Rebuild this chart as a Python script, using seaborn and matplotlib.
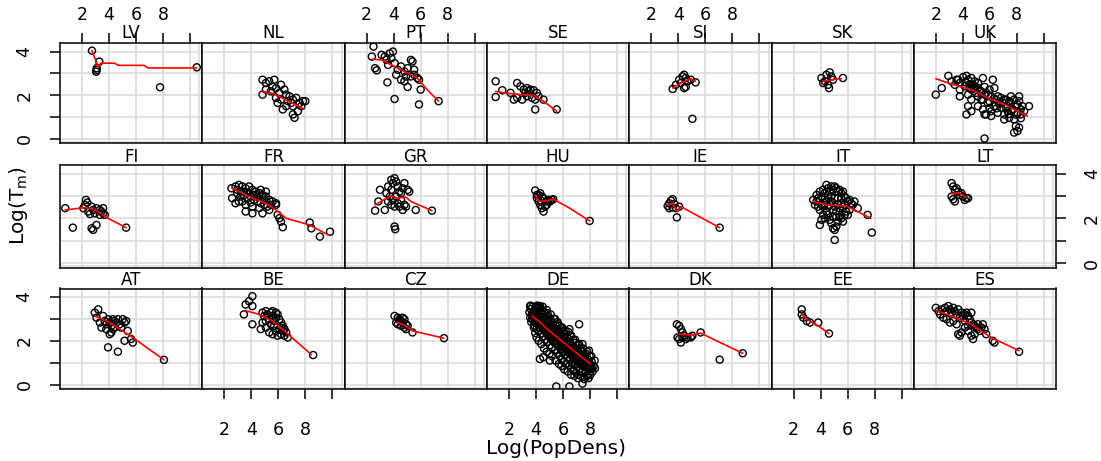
import matplotlib
matplotlib.use("Agg")
import matplotlib.pyplot as plt
import pandas as pd
import seaborn as sns

# panel layout, lattice style (filled bottom-up, alphabetical)
row_top = ["LV", "NL", "PT", "SE", "SI", "SK", "UK"]
row_mid = ["FI", "FR", "GR", "HU", "IE", "IT", "LT"]
row_bot = ["AT", "BE", "CZ", "DE", "DK", "EE", "ES"]

x_ticks = [2, 4, 6, 8, 10]
x_tick_labels = ["2", "4", "6", "8", ""]
y_ticks = [0, 1, 2, 3, 4]
y_tick_labels = ["0", "", "2", "", "4"]

# (log popdens, log T_m)
lv_pts = [(2.74, 4.04), (3.28, 3.54), (3.09, 3.24), (3.09, 3.16), (3.05, 3.08), (7.78, 2.37), (10.5, 3.28)]
lv_fit = [(2.74, 4.04), (3.2, 3.3), (3.4, 3.47), (4.4, 3.47), (4.7, 3.37), (6.6, 3.37), (6.9, 3.25), (10.5, 3.25)]

nl_pts = [(4.83, 2.71), (5.08, 2.56), (5.33, 2.64), (5.7, 2.71), (5.08, 2.26), (4.83, 2.03), (5.45, 2.18),
          (5.83, 2.33), (6.2, 2.48), (6.08, 2.11), (6.45, 2.26), (6.58, 2.03), (5.83, 1.88), (6.2, 1.8),
          (6.83, 1.95), (7.08, 1.8), (7.33, 1.88), (7.58, 1.65), (7.83, 1.73), (7.08, 1.5), (6.58, 1.5),
          (6.33, 1.35), (7.08, 1.12), (7.2, 0.97), (7.45, 1.27), (6.95, 1.65), (5.58, 2.41), (5.95, 1.65),
          (6.7, 1.73), (7.7, 1.5), (8.0, 1.73)]
nl_fit = [(4.8, 2.17), (5.5, 2.1), (6.2, 1.9), (7.0, 1.65), (7.9, 1.37)]

pt_pts = [(2.51, 4.23), (2.39, 3.77), (2.63, 3.24), (2.75, 3.14), (3.11, 3.85), (3.35, 3.77), (3.47, 3.62),
          (3.71, 3.92), (3.83, 3.7), (3.95, 4.0), (3.59, 3.39), (4.07, 3.47), (4.31, 3.17), (4.55, 3.32),
          (4.8, 3.09), (5.04, 3.24), (5.28, 3.62), (5.4, 3.55), (5.52, 3.17), (5.76, 2.79), (5.88, 2.71),
          (4.8, 2.64), (5.04, 2.38), (4.55, 2.71), (4.19, 2.94), (5.52, 2.94), (6.0, 2.26), (3.54, 2.59),
          (4.07, 1.83), (5.88, 1.58), (7.33, 1.73), (5.28, 2.86), (4.92, 2.86)]
pt_fit = [(2.39, 3.65), (3.11, 3.62), (3.83, 3.39), (4.8, 3.09), (5.76, 2.79), (6.48, 2.26), (7.33, 1.73)]

se_pts = [(1.02, 2.64), (1.02, 1.92), (1.51, 2.23), (2.61, 2.56), (2.85, 2.41), (3.1, 2.26), (3.34, 2.33),
          (3.59, 2.26), (3.83, 2.23), (4.07, 2.11), (2.61, 1.88), (2.37, 1.8), (2.98, 1.8), (3.34, 1.95),
          (3.71, 1.88), (3.95, 1.8), (4.56, 1.8), (3.95, 1.35), (5.54, 1.35), (2.12, 2.11), (3.22, 2.11),
          (3.46, 2.18), (4.2, 1.95)]
se_fit = [(1.02, 2.18), (1.63, 2.11), (2.85, 2.03), (3.83, 2.0), (4.56, 1.73), (5.54, 1.27)]

si_pts = [(3.59, 2.29), (3.83, 2.48), (4.07, 2.71), (4.32, 2.86), (4.44, 2.94), (4.56, 2.79), (4.68, 2.64),
          (4.56, 2.38), (4.2, 2.56), (4.93, 2.71), (5.29, 2.59), (4.44, 2.33), (5.05, 0.92)]
si_fit = [(3.59, 2.33), (4.2, 2.56), (4.93, 2.76), (5.29, 2.64)]

sk_pts = [(4.07, 2.79), (4.32, 2.64), (4.44, 2.94), (4.56, 2.48), (4.68, 3.05), (4.8, 2.86), (4.63, 2.33),
          (4.2, 2.56), (5.66, 2.79), (4.93, 2.71)]
sk_fit = [(4.2, 2.64), (4.93, 2.71), (5.54, 2.76)]

uk_pts = [(2.0, 2.03), (2.44, 2.33), (2.93, 2.89), (3.17, 2.64), (3.54, 2.71), (3.78, 2.56), (4.02, 2.83),
          (4.27, 2.89), (4.39, 2.71), (4.63, 2.79), (4.88, 2.64), (5.12, 2.56), (5.49, 2.79), (3.78, 2.26),
          (4.15, 2.41), (4.51, 2.33), (4.76, 2.48), (5.12, 2.33), (5.61, 2.38), (5.98, 2.26), (6.34, 2.33),
          (3.78, 1.95), (4.39, 2.03), (4.63, 1.8), (5.12, 1.95), (5.61, 2.03), (6.1, 1.95), (6.46, 1.8),
          (6.83, 1.88), (7.2, 1.8), (7.56, 1.65), (7.8, 1.8), (8.17, 1.95), (8.05, 1.58), (7.68, 1.35),
          (7.32, 1.5), (6.83, 1.42), (6.34, 1.5), (5.85, 1.65), (5.49, 1.35), (5.73, 1.12), (6.1, 1.05),
          (6.59, 1.2), (7.07, 1.12), (7.44, 0.97), (7.8, 0.89), (8.05, 1.2), (8.29, 1.35), (8.9, 1.5),
          (7.93, 0.59), (8.05, 0.36), (7.8, 0.29), (8.17, 0.52), (4.39, 1.5), (4.27, 1.12), (4.63, 1.27),
          (5.12, 1.5), (5.37, 1.8), (6.22, 2.71), (5.0, 2.11), (5.49, 1.8), (5.98, 1.42), (6.95, 1.65),
          (7.32, 1.27), (7.56, 1.95), (8.54, 1.27), (8.41, 1.5), (7.07, 0.89), (5.61, 0.02), (5.61, 1.12),
          (6.1, 1.27), (3.41, 2.48), (3.66, 2.71), (4.63, 2.26), (4.88, 2.41), (5.37, 2.18), (5.73, 2.11),
          (6.59, 1.95), (7.07, 1.8), (7.44, 1.73), (7.93, 1.5), (8.17, 1.73), (8.29, 1.12),
          (4.2, 2.6), (4.5, 2.5), (4.8, 2.3), (5.25, 2.2), (5.9, 2.0), (6.3, 1.85), (6.7, 1.6),
          (7.2, 1.45), (7.6, 1.3), (8.0, 1.1), (8.3, 0.95), (6.0, 1.7), (6.5, 1.4), (7.4, 1.15)]
uk_fit = [(2.0, 2.76), (2.93, 2.56), (4.63, 2.26), (5.85, 1.88), (7.07, 1.58), (8.78, 1.05)]

fi_pts = [(0.76, 2.45), (1.32, 1.58), (2.29, 2.82), (2.22, 2.6), (2.46, 2.3), (2.39, 2.7), (2.71, 2.52),
          (2.83, 2.37), (3.07, 2.45), (3.32, 2.37), (3.44, 2.3), (3.56, 2.22), (3.68, 2.15), (3.32, 2.15),
          (3.56, 2.45), (2.95, 2.22), (3.07, 1.7), (2.83, 1.48), (2.71, 1.55), (5.27, 1.58), (2.1, 2.45),
          (2.59, 2.19)]
fi_fit = [(0.76, 2.37), (1.85, 2.45), (2.34, 2.48), (3.07, 2.34), (3.8, 2.04), (5.27, 1.58)]

fr_pts = [(2.53, 3.34), (2.83, 3.42), (3.08, 3.49), (3.33, 3.42), (3.58, 3.34), (3.83, 3.42), (4.08, 3.27),
          (4.33, 3.19), (4.58, 3.12), (4.83, 3.04), (5.08, 2.97), (5.33, 2.82), (5.58, 2.75), (5.83, 2.67),
          (2.95, 3.12), (3.2, 2.97), (3.45, 3.04), (3.7, 2.9), (3.95, 2.97), (4.2, 2.82), (4.45, 2.75),
          (4.7, 2.67), (4.95, 2.6), (5.2, 2.52), (3.08, 2.75), (3.58, 2.6), (4.08, 2.52), (4.58, 2.45),
          (3.58, 2.3), (4.08, 2.22), (4.83, 2.22), (5.33, 2.37), (5.83, 2.6), (2.95, 3.27), (3.45, 3.19),
          (3.83, 3.12), (4.2, 3.04), (2.58, 2.9), (2.83, 2.67), (3.33, 2.75), (6.08, 2.0), (6.2, 1.85),
          (6.33, 1.6), (5.95, 2.15), (8.33, 1.81), (8.45, 1.55), (9.08, 1.18), (9.83, 1.4), (5.08, 3.19),
          (4.7, 3.27), (3.2, 3.2), (3.7, 3.15), (4.45, 2.95), (4.95, 2.8), (5.45, 2.6), (3.95, 2.7)]
fr_fit = [(2.58, 3.34), (3.83, 2.97), (5.08, 2.67), (5.83, 2.37), (6.58, 2.0), (8.33, 1.7), (9.7, 1.25)]

gr_pts = [(2.63, 2.34), (2.99, 3.27), (3.35, 2.37), (3.47, 3.12), (3.71, 2.97), (3.83, 3.27), (3.95, 3.57),
          (4.07, 3.79), (4.19, 3.64), (4.31, 3.42), (4.43, 3.19), (4.55, 3.12), (4.67, 3.34), (4.8, 3.57),
          (5.04, 3.27), (5.16, 3.19), (3.59, 2.75), (3.83, 2.6), (4.07, 2.52), (4.31, 2.67), (4.55, 2.82),
          (4.8, 2.6), (4.92, 2.52), (4.07, 1.63), (4.12, 1.51), (5.64, 2.37), (6.84, 2.34), (2.87, 2.75),
          (3.59, 3.42), (3.95, 2.82), (4.19, 2.97), (4.43, 2.52), (4.67, 2.37), (3.83, 3.72)]
gr_fit = [(2.63, 2.6), (3.35, 2.85), (3.83, 3.0), (4.19, 2.9), (4.92, 2.94), (5.28, 2.75), (6.84, 2.34)]

hu_pts = [(3.95, 3.24), (4.2, 3.04), (4.32, 3.12), (4.44, 2.97), (4.56, 2.9), (4.07, 2.9), (4.2, 2.75),
          (4.32, 2.6), (4.44, 2.45), (4.56, 2.3), (4.68, 2.52), (4.8, 2.75), (4.93, 2.82), (5.05, 2.75),
          (4.8, 2.6), (5.17, 2.82), (5.29, 2.85), (7.98, 1.88), (4.07, 3.04), (4.37, 2.79)]
hu_fit = [(3.95, 3.04), (4.2, 2.75), (4.8, 2.78), (5.29, 2.85), (6.51, 2.45), (7.98, 1.88)]

ie_pts = [(3.22, 2.55), (3.34, 2.67), (3.46, 2.79), (3.59, 2.85), (3.71, 2.64), (3.59, 2.48), (3.34, 2.45),
          (3.83, 2.45), (3.9, 2.04), (7.07, 1.58), (4.07, 2.52)]
ie_fit = [(3.22, 2.6), (3.59, 2.67), (3.95, 2.3), (4.2, 2.52), (7.07, 1.58)]

it_pts = [(3.46, 2.82), (3.59, 2.6), (3.71, 3.04), (3.83, 2.9), (3.95, 3.19), (4.07, 2.97), (4.2, 3.27),
          (4.32, 3.12), (4.44, 3.49), (4.56, 3.34), (4.68, 3.19), (4.8, 3.42), (4.93, 3.27), (5.05, 3.42),
          (5.17, 3.34), (5.29, 3.19), (5.41, 3.27), (5.54, 3.12), (5.66, 3.19), (5.78, 2.97), (5.9, 2.9),
          (6.02, 2.75), (6.15, 2.82), (6.27, 2.67), (6.39, 2.6), (6.51, 2.75), (6.76, 2.45), (7.49, 2.15),
          (7.8, 1.36), (5.05, 1.03), (3.95, 1.7), (4.07, 1.93), (4.2, 2.15), (4.32, 2.0), (4.44, 2.3),
          (4.56, 2.15), (4.68, 1.93), (4.8, 1.78), (4.93, 1.55), (5.05, 1.48), (5.17, 1.63), (5.29, 1.85),
          (5.41, 2.07), (5.54, 2.0), (5.66, 1.85), (5.78, 2.15), (5.9, 2.3), (6.02, 2.15), (6.15, 2.37),
          (3.95, 2.37), (4.07, 2.6), (4.2, 2.52), (4.32, 2.67), (4.44, 2.75), (4.56, 2.52), (4.68, 2.6),
          (4.8, 2.75), (4.93, 2.37), (5.05, 2.52), (5.17, 2.3), (5.29, 2.6), (5.41, 2.45), (5.54, 2.67),
          (5.66, 2.52), (5.78, 2.6), (4.32, 2.9), (4.56, 3.04), (5.05, 2.9), (5.29, 2.9), (5.54, 2.9),
          (4.8, 2.97), (3.83, 2.52), (3.71, 2.75), (5.17, 2.07), (4.93, 2.07)]
it_fit = [(3.46, 2.75), (4.44, 2.6), (5.9, 2.55), (6.51, 2.37), (7.73, 2.0)]

lt_pts = [(3.17, 3.57), (3.29, 3.42), (3.41, 3.27), (3.54, 3.34), (3.66, 3.19), (3.78, 3.04), (3.17, 2.97),
          (3.41, 2.75), (3.29, 2.85), (4.02, 2.97), (4.15, 2.82), (4.27, 2.9), (3.9, 3.12), (4.39, 2.9)]
lt_fit = [(3.17, 3.09), (3.66, 3.15), (4.27, 2.94)]

at_pts = [(2.95, 3.28), (3.2, 3.43), (3.07, 3.05), (3.32, 2.83), (3.44, 2.6), (3.68, 2.9), (3.8, 2.75),
          (3.93, 2.98), (4.05, 2.83), (4.17, 2.68), (4.29, 2.98), (4.41, 2.9), (4.29, 2.53), (4.17, 2.38),
          (4.54, 2.83), (4.66, 2.98), (4.78, 2.75), (4.9, 2.6), (5.02, 2.98), (5.15, 2.83), (5.27, 2.9),
          (4.41, 2.6), (3.56, 3.13), (5.39, 2.45), (5.63, 2.08), (5.76, 1.92), (5.15, 2.0), (4.66, 1.5),
          (3.93, 1.7), (8.07, 1.13), (3.8, 2.53), (4.05, 2.3)]
at_fit = [(2.95, 3.13), (4.05, 2.83), (5.76, 2.15), (8.07, 1.13)]

be_pts = [(3.45, 3.2), (3.58, 3.65), (3.83, 3.8), (4.08, 4.03), (4.08, 3.58), (4.08, 2.75), (4.7, 2.53),
          (4.83, 3.28), (4.95, 3.13), (5.08, 3.35), (5.2, 3.2), (5.33, 2.98), (5.45, 3.28), (5.58, 3.13),
          (5.7, 2.9), (5.83, 3.05), (5.95, 3.2), (6.08, 2.98), (6.2, 2.83), (6.33, 2.68), (6.45, 2.53),
          (6.58, 2.38), (6.7, 2.15), (6.08, 2.53), (5.83, 2.45), (5.58, 2.3), (5.33, 2.38), (5.08, 2.6),
          (5.45, 2.75), (5.7, 2.68), (5.95, 2.23), (6.2, 2.3), (6.45, 2.23), (5.08, 2.9), (4.83, 2.83),
          (8.58, 1.35), (5.58, 3.35), (5.83, 3.28), (6.2, 2.6), (6.33, 2.45)]
be_fit = [(3.53, 3.38), (4.58, 3.2), (5.58, 2.9), (6.58, 2.38), (8.45, 1.37)]

cz_pts = [(4.07, 3.13), (4.31, 3.05), (4.43, 2.98), (4.55, 2.9), (4.67, 3.05), (4.8, 2.98), (4.31, 2.75),
          (4.55, 2.68), (4.8, 2.6), (4.92, 2.75), (5.04, 2.68), (4.67, 2.83), (5.4, 2.38), (4.19, 2.83),
          (7.73, 2.12), (4.92, 2.53)]
cz_fit = [(4.19, 2.83), (4.8, 2.72), (5.4, 2.45), (7.73, 2.12)]

de_pts = [(3.52, 3.3), (3.58, 3.05), (3.62, 3.45), (3.66, 2.85), (3.7, 3.2), (3.74, 3.55), (3.78, 2.95),
          (3.83, 3.35), (3.87, 2.7), (3.9, 3.1), (3.95, 3.5), (3.98, 2.9), (4.02, 3.25), (4.05, 2.55),
          (4.08, 3.0), (4.1, 3.6), (4.14, 2.75), (4.17, 3.35), (4.2, 2.45), (4.23, 3.1), (4.27, 2.85),
          (4.3, 3.5), (4.33, 2.6), (4.36, 3.2), (4.4, 2.35), (4.43, 2.95), (4.46, 3.4), (4.49, 2.7),
          (4.52, 3.05), (4.55, 2.2), (4.58, 2.5), (4.61, 3.3), (4.64, 2.85), (4.67, 2.05), (4.7, 2.65),
          (4.73, 3.15), (4.76, 2.4), (4.8, 2.9), (4.83, 1.95), (4.86, 3.25), (4.89, 2.55), (4.92, 2.2),
          (4.95, 2.8), (4.98, 3.05), (5.01, 2.35), (5.04, 1.8), (5.07, 2.65), (5.1, 2.95), (5.13, 2.1),
          (5.16, 2.5), (5.19, 1.7), (5.22, 2.8), (5.25, 2.25), (5.28, 1.95), (5.31, 2.6), (5.34, 3.0),
          (5.37, 2.0), (5.4, 2.4), (5.43, 1.6), (5.46, 2.7), (5.49, 2.15), (5.52, 1.85), (5.55, 2.5),
          (5.58, 1.45), (5.61, 2.2), (5.64, 2.75), (5.67, 1.75), (5.7, 2.05), (5.73, 2.45), (5.76, 1.3),
          (5.79, 1.95), (5.82, 2.3), (5.85, 1.6), (5.88, 2.6), (5.91, 1.85), (5.94, 1.15), (5.97, 2.15),
          (6.0, 1.5), (6.03, 2.45), (6.06, 1.75), (6.09, 1.05), (6.12, 2.0), (6.15, 1.35), (6.18, 2.3),
          (6.21, 1.6), (6.24, 0.95), (6.27, 1.85), (6.3, 2.15), (6.33, 1.25), (6.36, 1.7), (6.4, 2.4),
          (6.43, 1.45), (6.46, 0.85), (6.49, 1.95), (6.52, 1.15), (6.55, 1.6), (6.58, 2.2), (6.61, 0.75),
          (6.64, 1.35), (6.67, 1.8), (6.7, 0.95), (6.73, 1.5), (6.76, 2.05), (6.79, 0.65), (6.82, 1.2),
          (6.85, 1.7), (6.88, 0.9), (6.91, 1.4), (6.94, 1.9), (6.97, 0.55), (7.0, 1.1), (7.03, 1.55),
          (7.06, 0.8), (7.09, 1.3), (7.12, 1.8), (7.15, 0.45), (7.18, 1.0), (7.21, 1.45), (7.24, 0.7),
          (7.27, 1.2), (7.3, 1.65), (7.33, 0.4), (7.36, 0.9), (7.4, 1.35), (7.43, 0.6), (7.46, 1.1),
          (7.5, 1.5), (7.54, 0.35), (7.58, 0.8), (7.62, 1.25), (7.66, 0.55), (7.7, 1.0), (7.74, 1.4),
          (7.78, 0.4), (7.82, 0.75), (7.86, 1.15), (7.9, 0.5), (7.94, 0.9), (7.98, 1.3), (8.03, 0.45),
          (8.08, 0.8), (8.13, 1.05), (8.2, 0.6), (8.28, 0.85), (8.37, 0.75),
          (3.85, 2.6), (3.95, 2.35), (4.05, 2.15), (4.2, 2.0), (4.4, 1.85), (4.6, 1.65), (4.8, 1.5),
          (5.0, 1.4), (5.2, 1.3), (5.45, 1.1), (5.7, 0.95), (5.9, 0.85), (6.1, 0.7), (6.35, 0.6),
          (6.6, 0.45), (6.85, 0.4), (7.1, 0.3), (7.6, 0.25), (7.9, 0.3),
          (3.6, 3.6), (4.0, 3.55), (4.2, 3.58), (4.5, 3.55), (4.8, 3.4), (5.1, 3.2), (5.4, 3.0),
          (5.6, 2.85), (5.95, 2.6), (6.2, 2.45), (6.6, 2.25), (6.9, 2.05), (7.2, 1.85), (7.5, 1.65),
          (7.8, 1.5), (8.1, 1.3), (8.35, 1.1),
          (3.72, 3.0), (3.8, 3.25), (3.88, 3.05), (3.96, 2.95), (4.04, 3.15), (4.12, 2.9), (4.2, 3.05),
          (4.28, 2.7), (4.35, 2.95), (4.42, 2.75), (4.5, 2.6), (4.57, 2.85), (4.65, 2.55), (4.72, 2.4),
          (4.79, 2.65), (4.87, 2.45), (4.94, 2.3), (5.02, 2.6), (5.09, 2.4), (5.16, 2.25), (5.23, 2.55),
          (5.3, 2.3), (5.37, 2.15), (5.44, 2.45), (5.51, 2.3), (5.58, 2.0), (5.65, 2.35), (5.72, 2.15),
          (5.8, 1.9), (5.87, 2.1), (5.95, 1.75), (6.02, 2.0), (6.1, 1.8), (6.17, 1.6), (6.25, 1.9),
          (6.32, 1.65), (6.4, 1.5), (6.47, 1.8), (6.55, 1.45), (6.62, 1.65), (6.7, 1.3), (6.77, 1.55),
          (6.85, 1.35), (6.92, 1.15), (7.0, 1.4), (7.07, 1.2), (7.15, 1.05), (7.22, 1.3), (7.3, 1.1),
          (7.37, 0.95), (7.45, 1.25), (7.52, 1.0), (7.6, 0.85), (7.67, 1.1), (7.75, 0.9), (7.82, 1.05),
          (7.9, 0.7), (7.97, 1.0), (8.05, 0.85), (8.15, 0.75),
          (4.3, 1.17), (5.03, 1.1), (4.55, 1.25), (5.51, -0.08), (6.48, -0.08), (7.45, 0.05),
          (7.2, 2.75), (6.48, 2.53), (5.75, 2.68), (7.45, 1.85), (7.93, 1.55), (4.3, 3.58), (3.57, 3.58)]
de_fit = [(3.69, 3.13), (4.3, 2.85), (5.0, 2.45), (5.7, 2.1), (6.5, 1.7), (7.3, 1.3), (8.05, 0.95)]

dk_pts = [(3.9, 2.75), (4.07, 2.68), (4.2, 2.53), (4.32, 2.38), (3.95, 2.15), (4.07, 2.08), (4.2, 1.92),
          (4.44, 2.23), (4.56, 2.08), (4.68, 2.15), (4.93, 2.15), (5.05, 2.23), (5.66, 2.38), (7.07, 1.14),
          (8.78, 1.43), (4.32, 2.15)]
dk_fit = [(4.07, 2.3), (4.93, 2.26), (5.66, 2.35), (8.78, 1.43)]

ee_pts = [(2.61, 3.43), (2.61, 3.2), (2.73, 3.05), (2.98, 2.9), (3.22, 2.83), (3.83, 2.83), (4.63, 2.33)]
ee_fit = [(2.61, 3.2), (2.98, 2.98), (3.83, 2.68), (4.63, 2.33)]

es_pts = [(2.0, 3.5), (2.2, 3.35), (2.32, 3.2), (2.44, 3.43), (2.68, 3.5), (2.8, 3.35), (2.93, 3.58),
          (3.05, 3.43), (3.17, 3.28), (3.29, 3.5), (3.41, 3.35), (3.54, 3.2), (3.66, 3.43), (3.78, 3.05),
          (3.9, 3.28), (4.02, 3.13), (4.15, 3.2), (4.27, 3.28), (4.39, 3.13), (4.51, 2.98), (4.63, 2.83),
          (4.76, 2.75), (4.88, 2.68), (5.0, 2.6), (5.12, 2.53), (5.24, 2.45), (5.37, 2.6), (5.61, 2.53),
          (5.73, 2.3), (6.22, 2.0), (6.34, 1.92), (8.17, 1.5), (2.56, 3.05), (2.8, 2.98), (3.05, 2.83),
          (3.29, 2.9), (3.54, 2.75), (3.66, 2.3), (3.78, 2.23), (3.9, 2.38), (4.15, 2.6), (4.39, 2.45),
          (4.63, 2.23), (4.76, 2.08), (4.88, 2.3), (5.12, 2.75), (5.49, 2.75), (4.39, 2.68), (4.63, 3.28),
          (4.15, 2.9)]
es_fit = [(2.0, 3.38), (3.17, 3.13), (4.63, 2.75), (6.1, 2.15), (8.17, 1.55)]

points = {"LV": lv_pts, "NL": nl_pts, "PT": pt_pts, "SE": se_pts, "SI": si_pts, "SK": sk_pts, "UK": uk_pts,
          "FI": fi_pts, "FR": fr_pts, "GR": gr_pts, "HU": hu_pts, "IE": ie_pts, "IT": it_pts, "LT": lt_pts,
          "AT": at_pts, "BE": be_pts, "CZ": cz_pts, "DE": de_pts, "DK": dk_pts, "EE": ee_pts, "ES": es_pts}
fits = {"LV": lv_fit, "NL": nl_fit, "PT": pt_fit, "SE": se_fit, "SI": si_fit, "SK": sk_fit, "UK": uk_fit,
        "FI": fi_fit, "FR": fr_fit, "GR": gr_fit, "HU": hu_fit, "IE": ie_fit, "IT": it_fit, "LT": lt_fit,
        "AT": at_fit, "BE": be_fit, "CZ": cz_fit, "DE": de_fit, "DK": dk_fit, "EE": ee_fit, "ES": es_fit}

df = pd.DataFrame([(k, x, y) for k, v in points.items() for x, y in v],
                  columns=["country", "popdens", "tm"])
fit_df = pd.DataFrame([(k, x, y) for k, v in fits.items() for x, y in v],
                      columns=["country", "popdens", "tm"])

sns.set_style("white", {"text.color": "black", "xtick.color": "black", "ytick.color": "black",
                        "axes.edgecolor": "black", "axes.labelcolor": "black"})
plt.rcParams["mathtext.default"] = "regular"

W, H = 1101, 461
fig = plt.figure(figsize=(W / 100, H / 100), dpi=100)

left0, pw = 60, 142.3
row_px = [(43.3, 143.5), (165, 267.7), (288.5, 389.3)]
title_base = [37.5, 162.5, 285]   # baseline of the strip text, pixels from top
grid_col = "#d9d9d9"

for r, names in enumerate([row_top, row_mid, row_bot]):
    top, bot = row_px[r]
    for c, name in enumerate(names):
        x0 = left0 + c * pw
        ax = fig.add_axes([x0 / W, 1 - bot / H, pw / W, (bot - top) / H])
        for v in x_ticks + [10.7]:
            ax.axvline(v, color=grid_col, lw=1.1, zorder=0)
        for h in [-0.15] + y_ticks:
            ax.axhline(h, color=grid_col, lw=1.1, zorder=0)

        sub = df[df.country == name]
        sns.scatterplot(data=sub, x="popdens", y="tm", ax=ax, marker="o",
                        facecolor="none", edgecolor="black", s=26, linewidth=1.0,
                        legend=False, zorder=2)
        fsub = fit_df[fit_df.country == name]
        sns.lineplot(data=fsub, x="popdens", y="tm", ax=ax, color="red", linewidth=1.2,
                     sort=False, estimator=None, zorder=3)

        ax.set_xlim(0.37, 10.91)
        ax.set_ylim(-0.21, 4.38)
        ax.set_xlabel("")
        ax.set_ylabel("")
        ax.set_xticks(x_ticks)
        ax.set_xticklabels(x_tick_labels)
        ax.set_yticks(y_ticks)
        ax.set_yticklabels(y_tick_labels)
        ax.tick_params(axis="both", direction="out", length=7.5, width=1.1, labelsize=12.5,
                       colors="black",
                       bottom=False, top=False, left=False, right=False,
                       labelbottom=False, labeltop=False, labelleft=False, labelright=False)
        if r == 0 and c % 2 == 0:
            ax.tick_params(axis="x", top=True, labeltop=True, pad=6.5)
        if r == 2 and c % 2 == 1:
            ax.tick_params(axis="x", bottom=True, labelbottom=True, pad=15)
        if c == 0 and r != 1:
            ax.tick_params(axis="y", left=True, labelleft=True, pad=11.5, labelrotation=90)
        if c == 6 and r == 1:
            ax.tick_params(axis="y", right=True, labelright=True, pad=12, labelrotation=90)
        for t in ax.yaxis.get_major_ticks():
            t.label1.set_va("center")
            t.label2.set_va("center")
        for s in ax.spines.values():
            s.set_linewidth(1.1)
            s.set_color("black")
        fig.text((x0 + pw / 2) / W, 1 - title_base[r] / H, name, ha="center", va="baseline",
                 fontsize=12, zorder=5)

fig.text(19 / W, 1 - 205 / H, "Log(T$_m$)", rotation=90, ha="center", va="center", fontsize=14.5)
fig.text(556 / W, 1 - 448 / H, "Log(PopDens)", ha="center", va="center", fontsize=14.5)

fig.savefig("out.png", dpi=100, facecolor="white")
